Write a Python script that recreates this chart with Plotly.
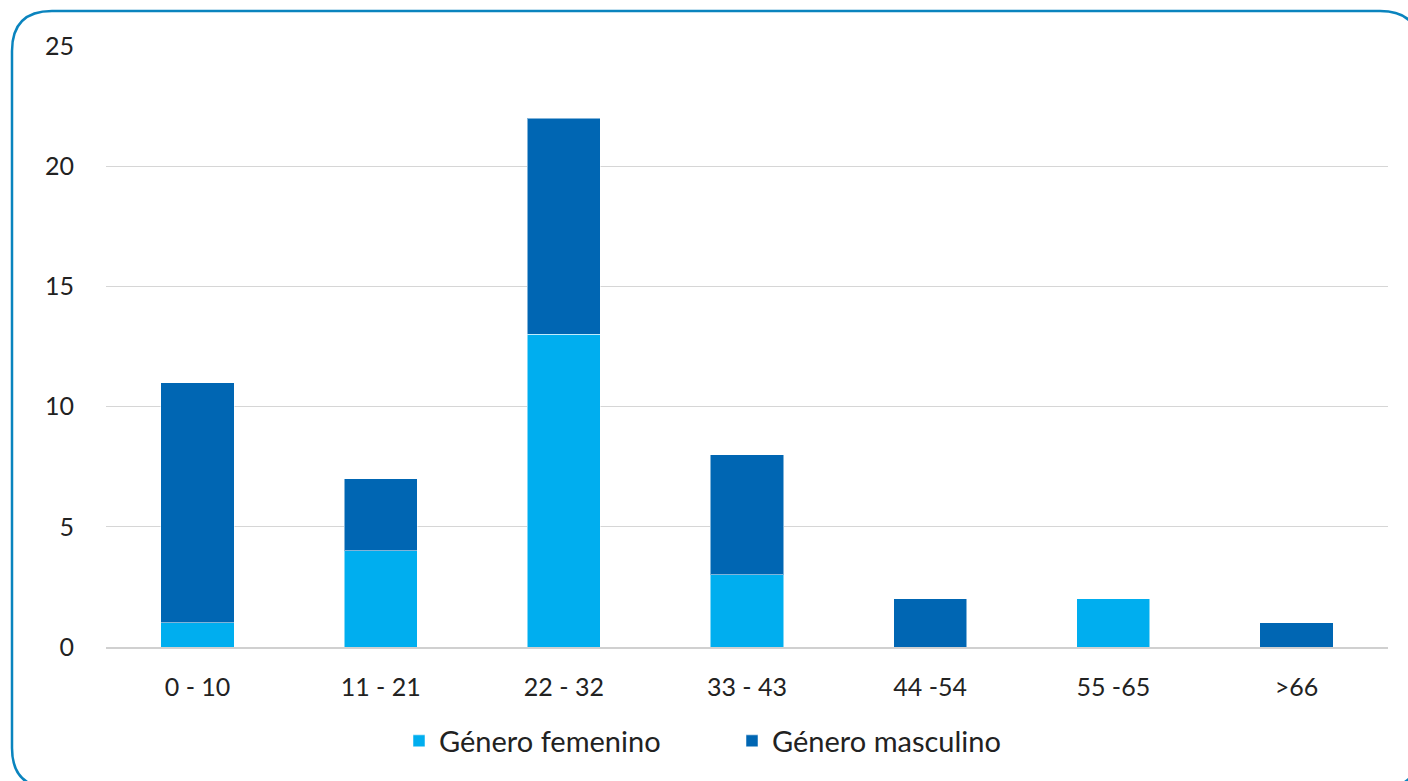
import plotly.graph_objects as go

categories = ["0 - 10", "11 - 21", "22 - 32", "33 - 43", "44 -54", "55 -65", ">66"]
femenino = [1, 4, 13, 3, 0, 2, 0]
masculino = [10, 3, 9, 5, 2, 0, 1]
y_ticks = [0, 5, 10, 15, 20, 25]

W, H = 1408, 781
L, R, T = 106, 20, 46
B = H - 647
pw, ph = W - L - R, H - T - B

def px(x):
    return (x - L) / pw

def py(y):
    return (H - B - y) / ph

FONT = "Lato"

fig = go.Figure()
fig.add_trace(go.Bar(x=categories, y=femenino, name="Género femenino",
                     marker=dict(color="#00AEEF", line=dict(color="rgba(255,255,255,0.5)", width=1))))
fig.add_trace(go.Bar(x=categories, y=masculino, name="Género masculino",
                     marker=dict(color="#0066B3", line=dict(color="rgba(255,255,255,0.5)", width=1))))

# rounded border (screen pixel coordinates)
x0, y0, x1, y1, r = 12, 11, 1420, 788, 40
path = (f"M {px(x0+r)},{py(y0)} L {px(x1-r)},{py(y0)} "
        f"Q {px(x1)},{py(y0)} {px(x1)},{py(y0+r)} "
        f"L {px(x1)},{py(y1-r)} Q {px(x1)},{py(y1)} {px(x1-r)},{py(y1)} "
        f"L {px(x0+r)},{py(y1)} Q {px(x0)},{py(y1)} {px(x0)},{py(y1-r)} "
        f"L {px(x0)},{py(y0+r)} Q {px(x0)},{py(y0)} {px(x0+r)},{py(y0)} Z")
fig.add_shape(type="path", path=path, xref="paper", yref="paper",
              line=dict(color="#0A84BE", width=2.5), layer="above")

fig.update_layout(
    width=W, height=H,
    margin=dict(l=L, r=R, t=T, b=B, autoexpand=False),
    barmode="stack", bargap=0.6,
    plot_bgcolor="white", paper_bgcolor="white",
    font=dict(family=FONT, size=25, color="#222222"),
    legend=dict(orientation="h", x=px(399), xanchor="left", y=py(741), yanchor="middle",
                font=dict(size=29), traceorder="normal",
                entrywidthmode="pixels", entrywidth=288),
    xaxis=dict(showline=True, linecolor="#D0D0D0", linewidth=1.5, ticks="",
               ticklabelstandoff=17, tickfont=dict(size=25)),
    yaxis=dict(range=[0, 25], tickvals=y_ticks, showgrid=True, gridcolor="#D6D6D6",
               gridwidth=1.3, zeroline=False, ticks="", ticklabelstandoff=31,
               tickfont=dict(size=25)),
)

fig.write_html("out.html",
               config={"displayModeBar": False},
               post_script="document.body.style.margin='0';document.body.style.overflow='hidden';")
